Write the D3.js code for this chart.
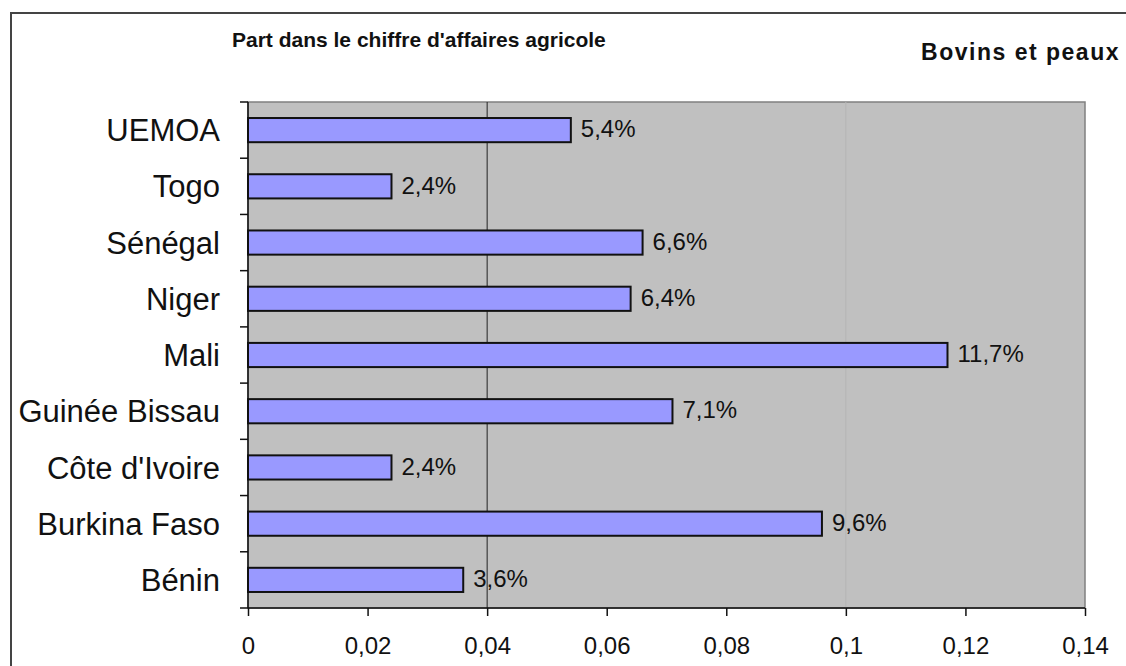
<!DOCTYPE html>
<html>
<head>
    <meta charset="utf-8" />
    <title>Bovins et peaux</title>
    <script src="https://d3js.org/d3.v7.min.js"></script>
    <style>
        body { margin: 0; background: white; }
        text { font-family: "Liberation Sans", Arial, sans-serif; }
    </style>
</head>
<body>
    <div id="chart"></div>
    <script>
        // data, bottom to top as drawn
        let countries = ['Bénin', 'Burkina Faso', "Côte d'Ivoire", 'Guinée Bissau', 'Mali', 'Niger', 'Sénégal', 'Togo', 'UEMOA'];
        let shares = [0.036, 0.096, 0.024, 0.071, 0.117, 0.064, 0.066, 0.024, 0.054];
        let labels = ['3,6%', '9,6%', '2,4%', '7,1%', '11,7%', '6,4%', '6,6%', '2,4%', '5,4%'];
        let xTicks = [0, 0.02, 0.04, 0.06, 0.08, 0.1, 0.12, 0.14];
        let gridLines = [0.04, 0.1];

        let width = 1126, height = 666;
        let margin = { top: 102, right: 41, bottom: 58, left: 248 };

        let svg = d3.select('#chart').append('svg')
            .attr('width', width)
            .attr('height', height);

        // outer frame (right and bottom fall outside the picture)
        svg.append('rect')
            .attr('x', 11).attr('y', 13)
            .attr('width', width + 20).attr('height', height + 20)
            .attr('fill', 'white')
            .attr('stroke', '#444')
            .attr('stroke-width', 2);

        let x = d3.scaleLinear()
            .domain([0, 0.14])
            .range([margin.left, width - margin.right]);

        // top row first
        let y = d3.scaleBand()
            .domain(countries.slice().reverse())
            .range([margin.top, height - margin.bottom])
            .paddingInner(0.57)
            .paddingOuter(0.285);

        // plot background
        svg.append('rect')
            .attr('x', x(0)).attr('y', margin.top)
            .attr('width', x(0.14) - x(0))
            .attr('height', height - margin.bottom - margin.top)
            .attr('fill', '#c0c0c0')
            .attr('stroke', '#808080')
            .attr('stroke-width', 1.5);

        svg.selectAll('.grid')
            .data(gridLines)
            .enter().append('line')
            .attr('class', 'grid')
            .attr('x1', d => x(d)).attr('x2', d => x(d))
            .attr('y1', margin.top).attr('y2', height - margin.bottom)
            .attr('stroke', d => d === 0.04 ? '#222' : '#b4b4b4')
            .attr('stroke-width', 1);

        // bars
        svg.selectAll('.bar')
            .data(countries)
            .enter().append('rect')
            .attr('class', 'bar')
            .attr('x', x(0))
            .attr('y', d => y(d))
            .attr('width', (d, i) => x(shares[i]) - x(0))
            .attr('height', y.bandwidth())
            .attr('fill', '#9999ff')
            .attr('stroke', '#111')
            .attr('stroke-width', 2);

        svg.selectAll('.val')
            .data(countries)
            .enter().append('text')
            .attr('class', 'val')
            .attr('x', (d, i) => x(shares[i]) + 10)
            .attr('y', d => y(d) + y.bandwidth() / 2)
            .attr('dy', '0.3em')
            .attr('font-size', 24)
            .attr('fill', '#111')
            .text((d, i) => labels[i]);

        // y axis: ticks at band boundaries
        let step = y.step();
        let boundaries = d3.range(countries.length + 1).map(i => margin.top + i * step);
        svg.append('line')
            .attr('x1', x(0)).attr('x2', x(0))
            .attr('y1', margin.top).attr('y2', height - margin.bottom)
            .attr('stroke', '#111').attr('stroke-width', 1.5);
        svg.selectAll('.ytick')
            .data(boundaries)
            .enter().append('line')
            .attr('class', 'ytick')
            .attr('x1', x(0) - 8).attr('x2', x(0))
            .attr('y1', d => d).attr('y2', d => d)
            .attr('stroke', '#111').attr('stroke-width', 1.5);
        svg.selectAll('.ylab')
            .data(countries)
            .enter().append('text')
            .attr('class', 'ylab')
            .attr('x', 220)
            .attr('y', d => y(d) + y.bandwidth() / 2)
            .attr('dy', '0.36em')
            .attr('text-anchor', 'end')
            .attr('font-size', 31)
            .attr('fill', '#111')
            .text(d => d);

        // x axis
        let xAxis = d3.axisBottom(x)
            .tickValues(xTicks)
            .tickSize(8)
            .tickPadding(21)
            .tickFormat(d => String(d).replace('.', ','));
        let gx = svg.append('g')
            .attr('transform', 'translate(0,' + (height - margin.bottom) + ')')
            .call(xAxis);
        gx.select('.domain').attr('stroke', '#111').attr('stroke-width', 1.5)
            .attr('d', 'M' + x(0) + ',0H' + x(0.14));
        gx.selectAll('.tick line').attr('stroke', '#111').attr('stroke-width', 1.5);
        gx.selectAll('.tick text')
            .attr('font-size', 24)
            .attr('fill', '#111')
            .attr('font-family', '"Liberation Sans", Arial, sans-serif');

        // titles
        svg.append('text')
            .attr('x', 232).attr('y', 47)
            .attr('font-size', 21)
            .attr('font-weight', 'bold')
            .attr('fill', '#111')
            .text("Part dans le chiffre d'affaires agricole");
        svg.append('text')
            .attr('x', 1120).attr('y', 60)
            .attr('text-anchor', 'end')
            .attr('font-size', 23)
            .attr('font-weight', 'bold')
            .attr('letter-spacing', 1.5)
            .attr('fill', '#111')
            .text('Bovins et peaux');
    </script>
</body>
</html>
